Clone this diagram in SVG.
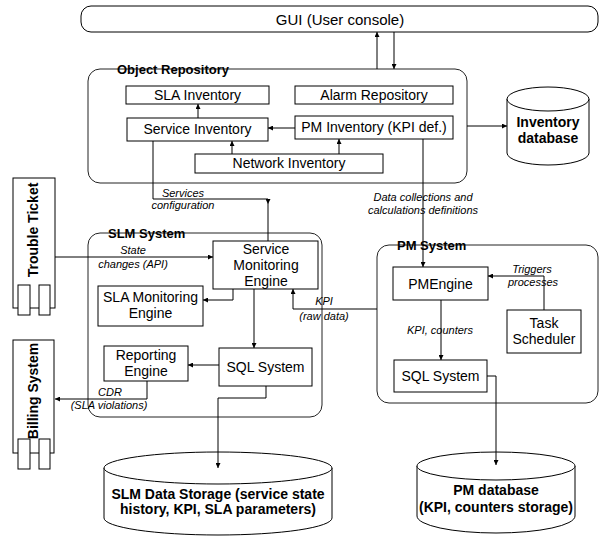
<svg xmlns="http://www.w3.org/2000/svg" width="600" height="536" viewBox="0 0 600 536">
  <style>
    text { font-family: "Liberation Sans", Arial, sans-serif; fill: #000; }
    .box { fill: #fff; stroke: #000; stroke-width: 1; }
    .cont { fill: none; stroke: #222; stroke-width: 1; }
    .lbl { font-size: 14px; text-anchor: middle; }
    .ttl { font-size: 13px; font-weight: bold; }
    .bold { font-size: 14px; font-weight: bold; text-anchor: middle; }
    .note { font-size: 11px; font-style: italic; text-anchor: middle; }
    .wire { fill: none; stroke: #000; stroke-width: 1; }
    .arr { marker-end: url(#tip); }
  </style>
  <defs>
    <marker id="tip" viewBox="0 0 6 6" refX="6" refY="3" markerWidth="5" markerHeight="5" markerUnits="userSpaceOnUse" orient="auto">
      <path d="M0,0 L6,3 L0,6 z" fill="#000"/>
    </marker>
  </defs>

  <rect width="600" height="536" fill="#fff"/>

  <!-- GUI -->
  <g id="gui">
    <rect class="box" x="81" y="6" width="517" height="26" rx="10"/>
    <text x="340" y="25" style="font-size:15px;text-anchor:middle">GUI (User console)</text>
  </g>

  <!-- Object Repository container -->
  <g id="object-repository">
    <rect class="cont" x="88" y="69" width="379" height="114" rx="12"/>
    <text class="ttl" x="117" y="73.5">Object Repository</text>
  </g>
  <g id="sla-inventory">
    <rect class="box" x="126" y="86" width="143" height="18"/>
    <text class="lbl" x="197.5" y="100">SLA Inventory</text>
  </g>
  <g id="alarm-repository">
    <rect class="box" x="295" y="86" width="158" height="18"/>
    <text class="lbl" x="374" y="100">Alarm Repository</text>
  </g>
  <g id="service-inventory">
    <rect class="box" x="127" y="118" width="141" height="23"/>
    <text class="lbl" x="197.5" y="134">Service Inventory</text>
  </g>
  <g id="pm-inventory">
    <rect class="box" x="295" y="116" width="158" height="23"/>
    <text class="lbl" x="374" y="132">PM Inventory (KPI def.)</text>
  </g>
  <g id="network-inventory">
    <rect class="box" x="195" y="154" width="188" height="19"/>
    <text class="lbl" x="289" y="168">Network Inventory</text>
  </g>

  <!-- Inventory database -->
  <g id="inventory-db">
    <path class="box" d="M507,99 L507,153 A41,12 0 0 0 589,153 L589,99"/>
    <ellipse class="box" cx="548" cy="99" rx="41" ry="12"/>
    <text class="bold" x="548" y="127">Inventory</text>
    <text class="bold" x="548" y="143">database</text>
  </g>

  <!-- External systems -->
  <g id="trouble-ticket">
    <rect class="box" x="13" y="178" width="42" height="130"/>
    <rect class="box" x="18" y="285" width="12" height="30"/>
    <rect class="box" x="39" y="285" width="11" height="30"/>
    <text class="bold" x="38" y="230" transform="rotate(-90 38 230)">Trouble Ticket</text>
  </g>
  <g id="billing-system">
    <rect class="box" x="13" y="340" width="41" height="113"/>
    <rect class="box" x="18" y="439" width="12" height="30"/>
    <rect class="box" x="39" y="439" width="11" height="30"/>
    <text class="bold" x="38" y="391" transform="rotate(-90 38 391)">Billing System</text>
  </g>

  <!-- SLM System container -->
  <g id="slm-system">
    <rect class="cont" x="88" y="233" width="234" height="184" rx="12"/>
    <text class="ttl" x="108" y="237.5">SLM System</text>
  </g>
  <g id="service-monitoring-engine">
    <rect class="box" x="213" y="241" width="105" height="48"/>
    <text class="lbl" x="266" y="254">Service</text>
    <text class="lbl" x="266" y="270">Monitoring</text>
    <text class="lbl" x="266" y="286">Engine</text>
  </g>
  <g id="sla-monitoring-engine">
    <rect class="box" x="98" y="286" width="105" height="40"/>
    <text class="lbl" x="150.5" y="302">SLA Monitoring</text>
    <text class="lbl" x="150.5" y="318">Engine</text>
  </g>
  <g id="reporting-engine">
    <rect class="box" x="104" y="346" width="84" height="35"/>
    <text class="lbl" x="146" y="360">Reporting</text>
    <text class="lbl" x="146" y="376">Engine</text>
  </g>
  <g id="slm-sql">
    <rect class="box" x="219" y="348" width="93" height="38"/>
    <text class="lbl" x="265.5" y="372">SQL System</text>
  </g>

  <!-- PM System container -->
  <g id="pm-system">
    <rect class="cont" x="377" y="245" width="221" height="158" rx="12"/>
    <text class="ttl" x="397" y="249.5">PM System</text>
  </g>
  <g id="pm-engine">
    <rect class="box" x="393" y="267" width="95" height="33"/>
    <text class="lbl" x="440.5" y="289">PMEngine</text>
  </g>
  <g id="task-scheduler">
    <rect class="box" x="507" y="310" width="74" height="43"/>
    <text class="lbl" x="544" y="328">Task</text>
    <text class="lbl" x="544" y="344">Scheduler</text>
  </g>
  <g id="pm-sql">
    <rect class="box" x="394" y="360" width="93" height="32"/>
    <text class="lbl" x="440.5" y="381">SQL System</text>
  </g>

  <!-- Storage -->
  <g id="slm-storage">
    <path class="box" d="M104,468 L104,518 A114,17 0 0 0 332,518 L332,468"/>
    <ellipse class="box" cx="218" cy="468" rx="114" ry="16"/>
    <text class="bold" x="218" y="499">SLM Data Storage (service state</text>
    <text class="bold" x="218" y="514">history, KPI, SLA parameters)</text>
  </g>
  <g id="pm-database">
    <path class="box" d="M417,466 L417,516 A79,17 0 0 0 575,516 L575,466"/>
    <ellipse class="box" cx="496" cy="466" rx="79" ry="14"/>
    <text class="bold" x="496" y="495">PM database</text>
    <text class="bold" x="496" y="512">(KPI, counters storage)</text>
  </g>

  <!-- Connectors -->
  <g id="connectors">
    <path class="wire arr" d="M377,69 L377,32"/>
    <path class="wire arr" d="M394,32 L394,69"/>
    <path class="wire arr" d="M295,128 L268,128"/>
    <path class="wire arr" d="M198,118 L198,104"/>
    <path class="wire arr" d="M232,154 L232,141"/>
    <path class="wire arr" d="M339,154 L339,139"/>
    <path class="wire arr" d="M467,126 L507,126"/>
    <path class="wire arr" d="M153,141 L153,199 L268,199 L268,204"/>
    <path class="wire" d="M268,204 L268,241"/>
    <path class="wire arr" d="M423,139 L423,267"/>
    <path class="wire arr" d="M55,257 L213,257"/>
    <path class="wire arr" d="M233,289 L233,300 L203,300"/>
    <path class="wire arr" d="M254,289 L254,348"/>
    <path class="wire arr" d="M219,365 L188,365"/>
    <path class="wire arr" d="M147,381 L147,399 L55,399"/>
    <path class="wire arr" d="M266,386 L266,398 L218,398 L218,468"/>
    <path class="wire arr" d="M377,309 L293,309 L293,289"/>
    <path class="wire arr" d="M544,310 L544,276 L488,276"/>
    <path class="wire arr" d="M441,300 L441,360"/>
    <path class="wire arr" d="M487,376 L496,376 L496,465"/>

    <text class="note" x="183" y="197">Services</text>
    <text class="note" x="183" y="209">configuration</text>
    <text class="note" x="133" y="254">State</text>
    <text class="note" x="133" y="268">changes (API)</text>
    <text class="note" x="324" y="305">KPI</text>
    <text class="note" x="324" y="320">(raw data)</text>
    <text class="note" x="98" y="396" style="text-anchor:start">CDR</text>
    <text class="note" x="109" y="409">(SLA violations)</text>
    <text class="note" x="423" y="201">Data collections and</text>
    <text class="note" x="423" y="214">calculations definitions</text>
    <text class="note" x="532" y="273">Triggers</text>
    <text class="note" x="533" y="286">processes</text>
    <text class="note" x="440" y="334">KPI, counters</text>
  </g>
</svg>
